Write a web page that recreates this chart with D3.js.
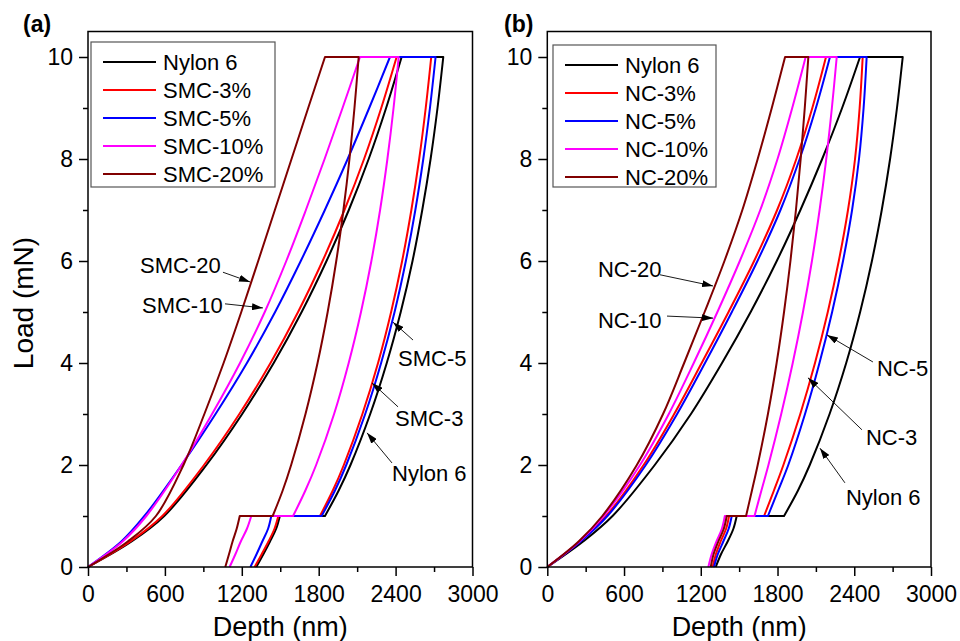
<!DOCTYPE html>
<html>
<head>
<meta charset="utf-8">
<script src="https://cdn.jsdelivr.net/npm/d3@7"></script>
<style>
  body { margin: 0; background: #fff; }
  svg { display: block; font-family: "Liberation Sans", Arial, sans-serif; }
  .tick text { font-size: 23px; fill: #000; }
  .tick line { stroke: #000; stroke-width: 1.5; }
</style>
</head>
<body>
<svg id="chart" width="960" height="641"></svg>
<script>
// ---- data (depth in nm, load in mN) ----
const colors = ['#000000', '#ff0000', '#0000ff', '#ff00ff', '#800000'];
const namesA = ['Nylon 6', 'SMC-3%', 'SMC-5%', 'SMC-10%', 'SMC-20%'];
const namesB = ['Nylon 6', 'NC-3%', 'NC-5%', 'NC-10%', 'NC-20%'];

// loading branch: depth at each of these loads
const loadSteps = [0, 0.5, 1, 2, 3, 4, 5, 6, 7, 8, 9, 10];
// unloading branch 10 -> 1 mN
const unloadSteps = [10, 9, 8, 7, 6, 5, 4, 3, 2, 1.5, 1];
// last unloading 1 -> 0 mN
const finalSteps = [1, 0.75, 0.5, 0.25, 0];

const loadingA = [
  [0, 340, 595, 924, 1203, 1449, 1667, 1861, 2035, 2190, 2326, 2447],
  [0, 330, 580, 905, 1181, 1424, 1639, 1830, 2001, 2154, 2288, 2408],
  [0, 260, 440, 730, 995, 1240, 1460, 1660, 1848, 2026, 2194, 2356],
  [0, 270, 455, 730, 968, 1186, 1379, 1547, 1700, 1846, 1986, 2122],
  [0, 310, 530, 745, 908, 1058, 1196, 1328, 1458, 1588, 1718, 1849]
];
const unloadingA = [
  [2772, 2727, 2673, 2608, 2532, 2440, 2331, 2202, 2048, 1956, 1849],
  [2678, 2635, 2584, 2523, 2451, 2365, 2263, 2141, 1996, 1910, 1810],
  [2712, 2668, 2616, 2554, 2480, 2392, 2287, 2163, 2015, 1927, 1823],
  [2424, 2384, 2336, 2279, 2211, 2130, 2034, 1920, 1780, 1696, 1600],
  [2112, 2079, 2040, 1993, 1937, 1870, 1791, 1697, 1585, 1519, 1441]
];
const finalA = [
  [1497, 1468, 1420, 1368, 1313],
  [1485, 1455, 1408, 1355, 1300],
  [1430, 1405, 1360, 1315, 1267],
  [1274, 1240, 1192, 1150, 1105],
  [1184, 1160, 1128, 1100, 1071]
];

const loadingB = [
  [0, 280, 510, 840, 1123, 1366, 1590, 1794, 1979, 2149, 2305, 2445],
  [0, 255, 460, 753, 992, 1207, 1417, 1617, 1797, 1947, 2072, 2179],
  [0, 260, 470, 770, 1015, 1233, 1443, 1643, 1823, 1973, 2100, 2210],
  [0, 250, 440, 725, 950, 1145, 1330, 1505, 1665, 1800, 1915, 2020],
  [0, 245, 430, 700, 905, 1070, 1230, 1385, 1525, 1645, 1755, 1859]
];
const unloadingB = [
  [2779, 2734, 2680, 2615, 2538, 2446, 2337, 2207, 2052, 1960, 1851],
  [2466, 2442, 2406, 2351, 2279, 2193, 2093, 1978, 1846, 1772, 1695],
  [2497, 2473, 2437, 2383, 2312, 2227, 2128, 2015, 1884, 1805, 1725],
  [2263, 2225, 2181, 2129, 2069, 1999, 1919, 1829, 1729, 1674, 1620],
  [2041, 2013, 1981, 1944, 1901, 1851, 1793, 1725, 1645, 1600, 1554]
];
const finalB = [
  [1481, 1455, 1410, 1358, 1317],
  [1421, 1398, 1355, 1318, 1293],
  [1442, 1418, 1376, 1333, 1303],
  [1388, 1365, 1322, 1285, 1259],
  [1403, 1380, 1337, 1300, 1278]
];

// text position (tx,ty) and arrow (x1,y1)->(x2,y2), all in data units
const notesA = [
  {label: 'SMC-20', tx: 406, ty: 5.76, x1: 1053, y1: 5.78, x2: 1264, y2: 5.59},
  {label: 'SMC-10', tx: 421, ty: 4.98, x1: 1069, y1: 5.16, x2: 1365, y2: 5.08},
  {label: 'SMC-5', tx: 2419, ty: 3.94, x1: 2536, y1: 4.45, x2: 2380, y2: 4.80},
  {label: 'SMC-3', tx: 2395, ty: 2.76, x1: 2419, y1: 3.14, x2: 2216, y2: 3.61},
  {label: 'Nylon 6', tx: 2372, ty: 1.69, x1: 2372, y1: 2.04, x2: 2177, y2: 2.63}
];
const notesB = [
  {label: 'NC-20', tx: 396, ty: 5.69, x1: 881, y1: 5.73, x2: 1296, y2: 5.51},
  {label: 'NC-10', tx: 396, ty: 4.69, x1: 936, y1: 4.92, x2: 1296, y2: 4.88},
  {label: 'NC-5', tx: 2577, ty: 3.75, x1: 2546, y1: 4.02, x2: 2187, y2: 4.55},
  {label: 'NC-3', tx: 2491, ty: 2.39, x1: 2460, y1: 2.69, x2: 2038, y2: 3.71},
  {label: 'Nylon 6', tx: 2335, ty: 1.22, x1: 2327, y1: 1.65, x2: 2132, y2: 2.33}
];

const xMajor = [0, 600, 1200, 1800, 2400, 3000];
const xMinor = [300, 900, 1500, 2100, 2700];
const yMajor = [0, 2, 4, 6, 8, 10];
const yMinor = [1, 3, 5, 7, 9];

// ---- drawing ----
const svg = d3.select('#chart');

svg.append('defs').append('marker')
  .attr('id', 'arrow')
  .attr('markerUnits', 'userSpaceOnUse')
  .attr('markerWidth', 11).attr('markerHeight', 7)
  .attr('refX', 11).attr('refY', 3.5)
  .attr('orient', 'auto')
  .append('path')
  .attr('d', 'M0,0 L11,3.5 L0,7 Z')
  .attr('fill', '#000');

const y = d3.scaleLinear().domain([0, 10.5]).range([567, 31.5]);

function drawPanel(opt){
  const x = d3.scaleLinear().domain([0, 3000]).range([opt.left, opt.right]);
  const g = svg.append('g');
  const curve = d3.line().x(d => x(d[0])).y(d => y(d[1])).curve(d3.curveCatmullRom.alpha(0.5));
  const straight = d3.line().x(d => x(d[0])).y(d => y(d[1]));

  // curves: Nylon first, highest content last (on top)
  opt.loading.forEach((row, i) => {
    const up = row.map((d, k) => [d, loadSteps[k]]);
    const down = opt.unloading[i].map((d, k) => [d, unloadSteps[k]]);
    const tail = opt.final[i].map((d, k) => [d, finalSteps[k]]);
    const path = curve(up) + straight([up[up.length - 1], down[0]]).replace('M', 'L')
      + curve(down).replace('M', 'L')
      + straight([down[down.length - 1], tail[0]]).replace('M', 'L')
      + curve(tail).replace('M', 'L');
    g.append('path')
      .attr('d', path)
      .attr('fill', 'none')
      .attr('stroke', colors[i])
      .attr('stroke-width', 2)
      .attr('stroke-linejoin', 'round');
  });

  // axes
  const xAxis = g.append('g').attr('transform', 'translate(0,' + y(0) + ')')
    .call(d3.axisBottom(x).tickValues(xMajor).tickFormat(d3.format('d'))
      .tickSize(9).tickPadding(10).tickSizeOuter(0));
  xAxis.select('.domain').remove();
  const xAxisMinor = g.append('g').attr('transform', 'translate(0,' + y(0) + ')')
    .call(d3.axisBottom(x).tickValues(xMinor).tickSize(5).tickFormat(''));
  xAxisMinor.select('.domain').remove();

  const yAxis = g.append('g').attr('transform', 'translate(' + opt.left + ',0)')
    .call(d3.axisLeft(y).tickValues(yMajor).tickFormat(d3.format('d'))
      .tickSize(9).tickPadding(6).tickSizeOuter(0));
  yAxis.select('.domain').remove();
  const yAxisMinor = g.append('g').attr('transform', 'translate(' + opt.left + ',0)')
    .call(d3.axisLeft(y).tickValues(yMinor).tickSize(5).tickFormat(''));
  yAxisMinor.select('.domain').remove();
  g.selectAll('.tick text').attr('font-family', null).attr('font-size', null);

  // frame
  g.append('rect')
    .attr('x', x(0)).attr('y', y(10.5))
    .attr('width', x(3000) - x(0)).attr('height', y(0) - y(10.5))
    .attr('fill', 'none').attr('stroke', '#000').attr('stroke-width', 1.5);

  // annotations
  opt.notes.forEach(n => {
    g.append('line')
      .attr('x1', x(n.x1)).attr('y1', y(n.y1))
      .attr('x2', x(n.x2)).attr('y2', y(n.y2))
      .attr('stroke', '#000').attr('stroke-width', 0.9)
      .attr('marker-end', 'url(#arrow)');
    g.append('text')
      .attr('x', x(n.tx)).attr('y', y(n.ty))
      .attr('font-size', 22)
      .text(n.label);
  });

  // legend
  const lg = g.append('g').attr('transform', 'translate(' + opt.legend[0] + ',' + opt.legend[1] + ')');
  lg.append('rect')
    .attr('width', opt.legend[2]).attr('height', opt.legend[3])
    .attr('fill', '#fff').attr('stroke', '#555').attr('stroke-width', 1.2);
  opt.names.forEach((name, i) => {
    const cy = 20 + i * 28;
    lg.append('line')
      .attr('x1', 12).attr('x2', 65)
      .attr('y1', cy).attr('y2', cy)
      .attr('stroke', colors[i]).attr('stroke-width', 2);
    lg.append('text')
      .attr('x', 72).attr('y', cy + 8)
      .attr('font-size', 22)
      .text(name);
  });

  // titles
  g.append('text')
    .attr('x', (opt.left + opt.right) / 2).attr('y', 636)
    .attr('text-anchor', 'middle')
    .attr('font-size', 27)
    .text('Depth (nm)');

  g.append('text')
    .attr('x', opt.labelX).attr('y', 32)
    .attr('font-size', 23).attr('font-weight', 'bold')
    .text(opt.tag);
}

drawPanel({left: 88, right: 472.5, loading: loadingA, unloading: unloadingA, final: finalA,
  names: namesA, notes: notesA, legend: [91, 42, 184, 145], tag: '(a)', labelX: 23});
drawPanel({left: 547.3, right: 931, loading: loadingB, unloading: unloadingB, final: finalB,
  names: namesB, notes: notesB, legend: [553, 45, 163, 142], tag: '(b)', labelX: 504});

svg.append('text')
  .attr('transform', 'translate(33,303) rotate(-90)')
  .attr('text-anchor', 'middle')
  .attr('font-size', 28)
  .text('Load (mN)');
</script>
</body>
</html>
